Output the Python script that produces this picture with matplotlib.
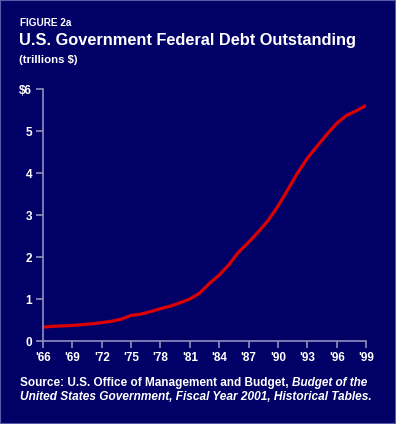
import matplotlib.pyplot as plt
from matplotlib.patches import Rectangle

# Data (trillions $), fiscal years 1966-1999
years = list(range(1966, 2000))
debt = [0.33, 0.35, 0.36, 0.37, 0.39, 0.41, 0.44, 0.47, 0.52, 0.61,
        0.64, 0.70, 0.77, 0.83, 0.91, 1.00, 1.14, 1.37, 1.57, 1.82,
        2.12, 2.35, 2.60, 2.87, 3.21, 3.60, 4.00, 4.35, 4.64, 4.92,
        5.18, 5.37, 5.48, 5.61]
xticks = list(range(1966, 2000, 3))
xlabels = ["'" + str(y)[2:] for y in xticks]
yticks = [0, 1, 2, 3, 4, 5, 6]
ylabels = ["0", "1", "2", "3", "4", "5", "$6"]

bg = "#000066"
axc = "#9090c0"
plt.rcParams["font.family"] = ["Liberation Sans", "DejaVu Sans"]
plt.rcParams["font.weight"] = "bold"

fig = plt.figure(figsize=(3.96, 4.24), dpi=100, facecolor=bg)
ax = fig.add_axes([43 / 396, 1 - 341 / 424, 323 / 396, 252 / 424])
ax.set_facecolor(bg)

ax.plot(years, debt, color="#dd0000", linewidth=2.3, solid_capstyle="butt")

ax.set_xlim(1966, 1999)
ax.set_ylim(0, 6)
ax.set_xticks(xticks)
ax.set_xticklabels(xlabels)
ax.set_yticks(yticks)
ax.set_yticklabels(ylabels)
for s in ["top", "right"]:
    ax.spines[s].set_visible(False)
for s in ["left", "bottom"]:
    ax.spines[s].set_color(axc)
    ax.spines[s].set_linewidth(1.2)
ax.tick_params(colors=axc, length=5, width=1.2, labelsize=8.5, labelcolor="white", pad=3)

# Titles
fig.text(20 / 396, 1 - 23 / 424, "FIGURE 2a", color="white", fontsize=7.2, fontweight="bold", va="center")
fig.text(19 / 396, 1 - 41 / 424, "U.S. Government Federal Debt Outstanding", color="white",
         fontsize=11.8, fontweight="bold", va="center")
fig.text(19 / 396, 1 - 60 / 424, "(trillions $)", color="white", fontsize=8.2, fontweight="bold", va="center")

# Source
t1 = fig.text(20 / 396, 1 - 383 / 424, "Source: U.S. Office of Management and Budget, ", color="white",
              fontsize=8.5, fontweight="bold", va="center")
ax.annotate("Budget of the", xy=(1, 0.5), xycoords=t1, color="white", fontsize=8.5,
            fontweight="bold", style="italic", va="center", ha="left", annotation_clip=False)
fig.text(20 / 396, 1 - 397 / 424, "United States Government, Fiscal Year 2001, Historical Tables.",
         color="white", fontsize=8.6, fontweight="bold", style="italic", va="center")

# Border
fig.patches.append(Rectangle((0, 0), 1, 1, transform=fig.transFigure, fill=False,
                             edgecolor="#5a5aa8", linewidth=1.5))

fig.savefig("out.png", dpi=100, facecolor=bg)
